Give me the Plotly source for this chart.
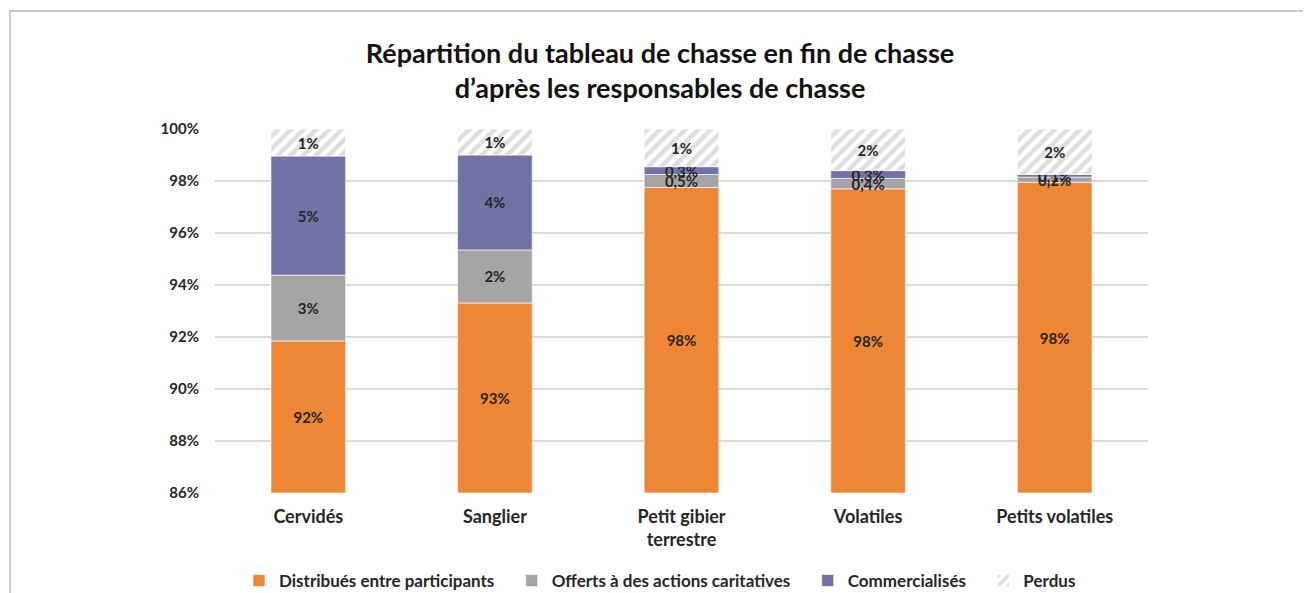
import numpy as np
import plotly.graph_objects as go

# Répartition du tableau de chasse (%)
categories = ["Cervidés", "Sanglier", "Petit gibier<br>terrestre", "Volatiles", "Petits volatiles"]
distribues = [91.85, 93.31, 97.75, 97.70, 97.95]
offerts = [2.53, 2.04, 0.50, 0.40, 0.20]
commercialises = [4.58, 3.65, 0.30, 0.30, 0.10]
perdus = [1.04, 1.00, 1.45, 1.60, 1.75]
tick_vals = [86, 88, 90, 92, 94, 96, 98, 100]
y_min = 86

FONT = "Lato"
TXT = "#262626"
GAP = "\u00a0" * 3  # extra room between legend entries

# plot area in figure pixels (page body adds an 8px offset)
L, R, T, B = 207, 1140, 121, 485
W, H = 1311, 593


def fmt(v):
    # Excel-style label, comma as decimal separator
    if v >= 0.95:
        return f"{v:.0f}%"
    return f"{v:.1f}%".replace(".", ",")


series = [
    ("Distribués entre participants", distribues, dict(color="#EF8636")),
    ("Offerts à des actions caritatives", offerts, dict(color="#A5A5A5")),
    ("Commercialisés", commercialises, dict(color="#7074A4")),
    ("Perdus", perdus, dict(color="white",
                            pattern=dict(shape="/", fgcolor="#BDBDBD", bgcolor="white",
                                         size=9, solidity=0.5))),
]

# the chart is cut at 86 %, so each segment is drawn from its visible start
tops = np.cumsum([s[1] for s in series], axis=0)

fig = go.Figure()
for i, (name, vals, marker) in enumerate(series):
    start = np.maximum(tops[i] - np.array(vals), y_min)
    marker = dict(marker, line=dict(color="rgba(255,255,255,0.6)", width=1))
    fig.add_trace(go.Bar(
        x=categories, y=tops[i] - start, base=start, name=name + GAP, marker=marker,
        text=[fmt(v) for v in vals], textposition="inside",
        insidetextanchor="middle", textangle=0,
        textfont=dict(family=FONT, size=15, color=TXT, weight="bold"),
        hovertext=[fmt(v) for v in vals], hoverinfo="text",
    ))

pw, ph = R - L, B - T
fig.update_layout(
    barmode="overlay",
    bargap=0.6,
    width=W, height=H,
    margin=dict(l=L, r=W - R, t=T, b=H - B),
    paper_bgcolor="white", plot_bgcolor="white",
    font=dict(family=FONT, color=TXT),
    uniformtext=dict(minsize=15, mode="show"),
    title=dict(
        text="Répartition du tableau de chasse en fin de chasse<br>d’après les responsables de chasse",
        x=652 / W, xref="container", xanchor="center",
        y=1 - 55 / H, yref="container", yanchor="top",
        font=dict(family=FONT, size=27, color="#111", weight="bold"),
    ),
    legend=dict(
        orientation="h", x=(658 - L) / pw, xanchor="center",
        yref="container", y=1 - 555 / H, yanchor="top",
        font=dict(family=FONT, size=17, color=TXT, weight="bold"),
        traceorder="normal", itemwidth=30,
    ),
    shapes=[dict(type="rect", xref="paper", yref="paper",
                 x0=(2 - L) / pw, x1=1.3, y0=-0.5, y1=1 + (T - 3) / ph,
                 line=dict(color="#C8C8C8", width=2), layer="below")],
)

fig.update_yaxes(
    range=[y_min, 100], tickvals=tick_vals, ticktext=[f"{v}%" for v in tick_vals],
    showgrid=True, gridcolor="#D9D9D9", gridwidth=1.5, zeroline=False,
    ticks="outside", ticklen=12, tickcolor="rgba(0,0,0,0)", automargin=False,
    tickfont=dict(family=FONT, size=15, color=TXT, weight="bold"),
)
fig.update_xaxes(
    showline=False, automargin=False,
    ticks="outside", ticklen=7, tickcolor="rgba(0,0,0,0)",
    tickfont=dict(family=FONT, size=18, color=TXT, weight="bold"),
)

fig.write_html("out.html")
